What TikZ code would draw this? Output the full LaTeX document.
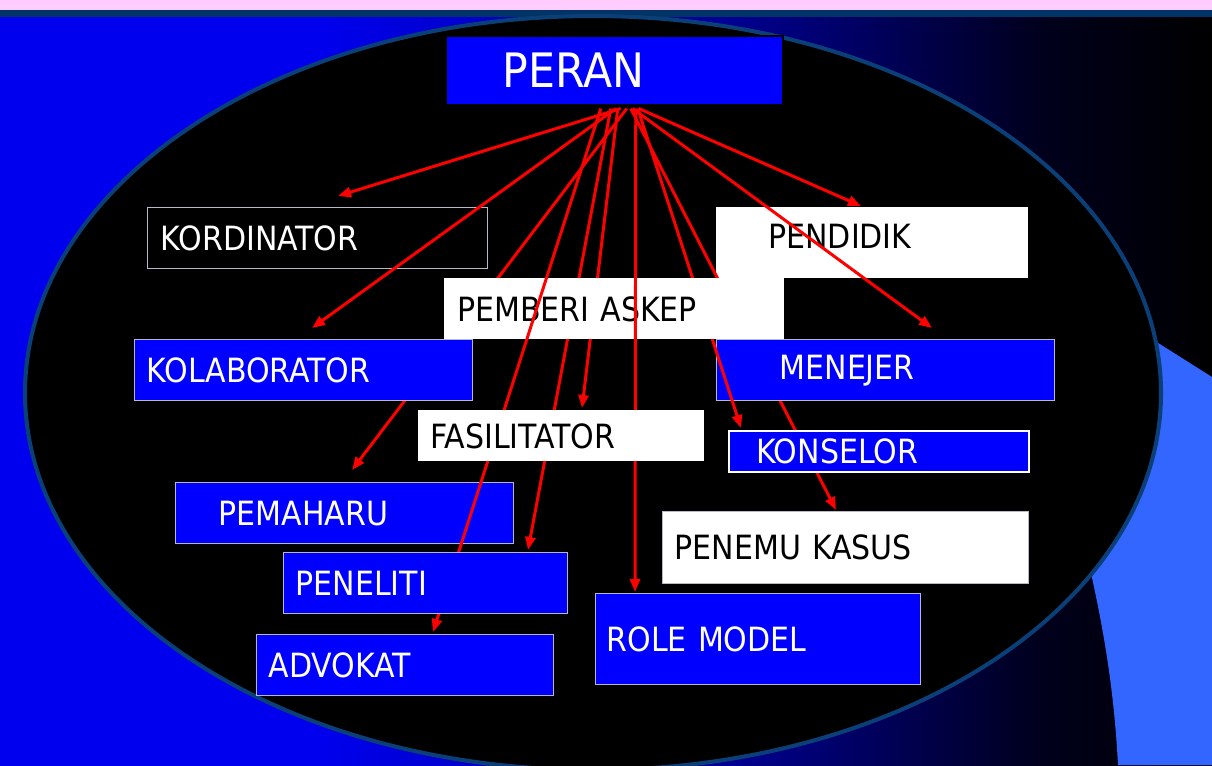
\documentclass[tikz,border=0pt]{standalone}
\usepackage{fontspec}
\setmainfont{DejaVu Sans Condensed}
\usepackage{tikz}
\usetikzlibrary{arrows.meta,calc}
\definecolor{slpink}{HTML}{FFCCFF}
\definecolor{slband}{HTML}{003366}
\definecolor{slblue}{HTML}{0000FF}
\definecolor{slbg}{HTML}{0000EE}
\definecolor{slnavy}{HTML}{000094}
\definecolor{slnight}{HTML}{00001C}
\definecolor{slrim}{HTML}{0A3F78}
\definecolor{slsky}{HTML}{3366FF}
\definecolor{slred}{HTML}{FF0000}
\definecolor{slgrey}{HTML}{B8B8C8}
\pgfdeclarehorizontalshading{slbgshade}{100bp}{color(0bp)=(slbg); color(38bp)=(slbg); color(55bp)=(slnavy); color(68bp)=(slnight); color(75bp)=(black); color(100bp)=(black)}

\begin{document}
\begin{tikzpicture}[x=0.02cm,y=-0.02cm,font=\fontsize{19}{22}\selectfont,
  headbox/.style={anchor=north west,rectangle,fill=slblue,draw=black,line width=0.9pt,text=white,inner ysep=0pt,align=left,font=\fontsize{27}{30}\selectfont},
  bluebox/.style={anchor=north west,rectangle,fill=slblue,draw=slgrey,line width=0.8pt,text=white,inner ysep=0pt,align=left},
  darkbox/.style={anchor=north west,rectangle,fill=black,draw=slgrey,line width=0.8pt,text=white,inner ysep=0pt,align=left},
  whitebox/.style={anchor=north west,rectangle,fill=white,text=black,inner ysep=0pt,align=left},
  ar/.style={-{Triangle[length=2.6mm,width=2mm]},line width=1.7pt,slred}]
\useasboundingbox (0,0) rectangle (1212,765);
\clip (0,0) rectangle (1212,765);
% backdrop
\shade[shading=slbgshade] (0,14) rectangle (1212,765);
\fill[slpink] (0,0) rectangle (1212,10);
\fill[slband] (0,10) rectangle (1212,17);
\fill[slsky] (1212,377) -- (1212,765) -- (1118,765) .. controls (1114,690) and (1104,630) .. (1088,560) -- (1090,300) -- cycle;
\filldraw[fill=black,draw=slrim,line width=2.3pt] (593,393) ellipse [x radius=568,y radius=377];
% arrow ends
\coordinate (t-kord) at (338,196);
\coordinate (t-kola) at (312,328);
\coordinate (t-pema) at (352,470);
\coordinate (t-advo) at (433,632);
\coordinate (t-penl) at (528,550);
\coordinate (t-fasi) at (582,408);
\coordinate (t-role) at (635,592);
\coordinate (t-pend) at (861,206);
\coordinate (t-mene) at (932,328);
\coordinate (t-kons) at (741,428);
\coordinate (t-penk) at (836,510);
% head + first boxes
\node[headbox,minimum height=1.38cm,inner xsep=1.14cm,text width=4.46cm] (peran) at (445,35) {PERAN};
\node[darkbox,minimum height=1.22cm,inner xsep=0.26cm,text width=6.28cm] (kord) at (147,207) {KORDINATOR};
\node[whitebox,minimum height=1.42cm,inner xsep=1.04cm,text width=4.16cm,text depth=0.28cm] (pend) at (716,207) {PENDIDIK};
% arrows lying under the boxes
\draw[ar] ($(peran.south)+(16.5,3)$) -- (t-penk);
\draw[ar] ($(peran.south)+(12.5,3)$) -- (t-pema);
\draw[ar] ($(peran.south)+(-3.5,3)$) -- (t-penl);
\draw[ar] ($(peran.south)+(3.5,3)$) -- (t-fasi);
\node[bluebox,minimum height=1.22cm,inner xsep=1.26cm,text width=4.24cm] (mene) at (716,339) {MENEJER};
\node[bluebox,draw=white,line width=1.2pt,minimum height=0.82cm,inner xsep=0.54cm,text width=4.92cm] (kons) at (728,430) {KONSELOR};
\node[bluebox,minimum height=1.22cm,inner xsep=0.24cm,text width=6.28cm] (kola) at (134,339) {KOLABORATOR};
\node[bluebox,minimum height=1.22cm,inner xsep=0.86cm,text width=5.04cm] (pema) at (175,482) {PEMAHARU};
\draw[ar] ($(peran.south)+(23.5,3)$) -- (t-kons);
\node[whitebox,minimum height=1.22cm,inner xsep=0.26cm,text width=6.28cm] (pemb) at (444,278) {PEMBERI ASKEP};
% arrows over the boxes
\draw[ar] ($(peran.south)+(-13.5,3)$) -- (t-advo);
\draw[ar] ($(peran.south)+(21.5,3)$) -- (t-role);
\draw[ar] ($(peran.south)+(6.5,3)$) -- (t-kord);
\draw[ar] ($(peran.south)+(1.5,3)$) -- (t-kola);
\draw[ar] ($(peran.south)+(24.5,3)$) -- (t-pend);
\draw[ar] ($(peran.south)+(18.5,3)$) -- (t-mene);
% lower boxes
\node[whitebox,minimum height=1.02cm,inner xsep=0.24cm,text width=5.24cm] (fasi) at (418,410) {FASILITATOR};
\node[bluebox,minimum height=1.22cm,inner xsep=0.24cm,text width=5.20cm] (penl) at (283,552) {PENELITI};
\node[bluebox,minimum height=1.22cm,inner xsep=0.24cm,text width=5.46cm] (advo) at (256,634) {ADVOKAT};
\node[whitebox,draw=slgrey,line width=0.8pt,minimum height=1.44cm,inner xsep=0.24cm,text width=6.84cm] (penk) at (662,511) {PENEMU KASUS};
\node[bluebox,minimum height=1.82cm,inner xsep=0.22cm,text width=6.06cm] (role) at (595,593) {ROLE MODEL};
\end{tikzpicture}
\end{document}
